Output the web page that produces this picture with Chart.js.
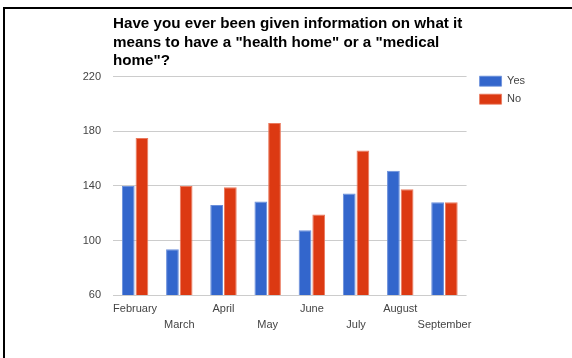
<!DOCTYPE html>
<html>
<head>
  <title>Health Home Survey</title>
  <script src="https://cdn.jsdelivr.net/npm/chart.js"></script>
  <style>
    body { margin: 0; background: #fff; font-family: Arial, "Liberation Sans", sans-serif; }
    #wrap { position: relative; width: 572px; height: 358px; overflow: hidden; }
    #frame { position: absolute; left: 3px; top: 7px; right: -5px; bottom: -5px;
             border-top: 2px solid #000; border-left: 2px solid #000; pointer-events: none; }
    canvas { position: absolute; left: 0; top: 0; }
  </style>
</head>
<body>
<div id="wrap">
  <canvas id="surveyChart" width="572" height="358"></canvas>
  <div id="frame"></div>
</div>
<script>
  const months = ['February', 'March', 'April', 'May', 'June', 'July', 'August', 'September'];
  const yesCounts = [140, 93.5, 126, 128.5, 107.5, 134.5, 151, 128];
  const noCounts = [175, 140, 139, 186, 119, 166, 137.5, 128];
  const yTicks = [60, 100, 140, 180, 220];

  const titleLines = [
    'Have you ever been given information on what it',
    'means to have a "health home" or a "medical',
    'home"?'
  ];

  const fontFamily = 'Arial, "Liberation Sans", sans-serif';

  // keep the legend level with the top of the plot, a little right of it
  const legendBesidePlot = {
    id: 'legendBesidePlot',
    afterLayout(chart) {
      const lg = chart.legend;
      const dy = chart.chartArea.top - 8 - lg.top;
      const dx = chart.chartArea.right + 6 - lg.left;
      lg.top += dy; lg.bottom += dy;
      lg.left += dx; lg.right += dx;
    }
  };

  const ctx = document.getElementById('surveyChart').getContext('2d');
  const chart = new Chart(ctx, {
    type: 'bar',
    data: {
      labels: months,
      datasets: [{
        label: 'Yes',
        data: yesCounts,
        backgroundColor: '#3366cc',
        borderColor: '#6a8fdb',
        borderWidth: { top: 1, left: 1, right: 1, bottom: 0 },
        categoryPercentage: 0.62,
        barPercentage: 0.93
      }, {
        label: 'No',
        data: noCounts,
        backgroundColor: '#dc3912',
        borderColor: '#ea7a5e',
        borderWidth: { top: 1, left: 1, right: 1, bottom: 0 },
        categoryPercentage: 0.62,
        barPercentage: 0.93
      }]
    },
    plugins: [legendBesidePlot],
    options: {
      responsive: false,
      animation: false,
      layout: { padding: { top: 15, left: 80, right: 43, bottom: 19 } },
      plugins: {
        title: {
          display: true,
          text: titleLines,
          align: 'start',
          fullSize: false,
          color: '#000',
          font: { family: fontFamily, size: 15.2, weight: 'bold', lineHeight: 1.21 },
          padding: { top: 0, bottom: 6.5 }
        },
        legend: {
          position: 'right',
          align: 'start',
          labels: {
            color: '#444',
            boxWidth: 22,
            boxHeight: 10,
            padding: 7,
            font: { family: fontFamily, size: 11 }
          }
        },
        tooltip: { enabled: false }
      },
      scales: {
        x: {
          grid: { display: false, drawTicks: false },
          border: { display: false },
          ticks: {
            color: '#444',
            font: { family: fontFamily, size: 11, lineHeight: 1.45 },
            maxRotation: 0,
            autoSkip: false,
            padding: 6,
            callback: (v, i) => i % 2 ? ['', months[i]] : months[i]
          }
        },
        y: {
          min: 60,
          max: 220,
          afterBuildTicks: axis => { axis.ticks = yTicks.map(v => ({ value: v })); },
          afterFit: axis => { axis.width = 33; },
          grid: { color: '#cccccc', drawTicks: false },
          border: { display: false },
          ticks: {
            color: '#444',
            font: { family: fontFamily, size: 11 },
            padding: 12
          }
        }
      }
    }
  });
</script>
</body>
</html>
